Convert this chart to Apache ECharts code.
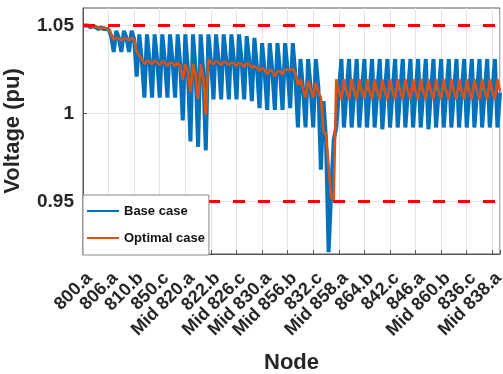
<!DOCTYPE html>
<html>
<head>
<meta charset="utf-8">
<script src="https://cdn.jsdelivr.net/npm/echarts@6/dist/echarts.min.js"></script>
<style>
  html, body { margin: 0; padding: 0; background: #fff; }
  #chart { width: 503px; height: 374px; }
</style>
</head>
<body>
<div id="chart"></div>
<script>
// tick labels, one every 10 points along the feeder
const tickLabels = ['800.a', '806.a', '810.b', '850.c', 'Mid 820.a', '822.b', 'Mid 826.c', 'Mid 830.a',
    'Mid 856.b', '832.c', 'Mid 858.a', '864.b', '842.c', '846.a', 'Mid 860.b', '836.c', 'Mid 838.a'];
const yTicks = [0.95, 1, 1.05];
const limits = [1.05, 0.95];

// base case voltages (pu), one value per node phase
const baseCase = [
    1.050, 1.050, 1.050, 1.049, 1.050, 1.049, 1.048, 1.049, 1.048, 1.048, 1.048,
    1.044, 1.035, 1.047, 1.043, 1.035, 1.047, 1.043, 1.035, 1.047, 1.042,
    1.021, 1.045, 1.030, 1.009, 1.045, 1.030, 1.009, 1.045, 1.030, 1.009,
    1.045, 1.030, 1.009, 1.045, 1.030, 1.009, 1.045, 1.028, 0.996, 1.045,
    1.025, 0.984, 1.045, 1.025, 0.981, 1.045, 1.024, 0.979, 1.045, 1.030,
    1.008, 1.045, 1.030, 1.008, 1.045, 1.030, 1.008, 1.045, 1.030, 1.008,
    1.045, 1.030, 1.008, 1.044, 1.030, 1.007, 1.043, 1.026, 1.003, 1.040,
    1.024, 1.002, 1.040, 1.024, 1.002, 1.040, 1.024, 1.002, 1.040, 1.024,
    1.003, 1.040, 1.022, 0.992, 1.031, 1.014, 0.992, 1.031, 1.014, 0.992,
    1.031, 1.015, 0.968, 1.007, 0.985, 0.921, 0.955, 0.985, 0.992, 1.012,
    1.031, 0.992, 1.012, 1.031, 0.992, 1.012, 1.031, 0.992, 1.012, 1.031,
    0.992, 1.012, 1.031, 0.992, 1.012, 1.031, 0.991, 1.012, 1.031, 0.992,
    1.012, 1.031, 0.992, 1.012, 1.031, 0.992, 1.012, 1.031, 0.992, 1.012,
    1.031, 0.992, 1.012, 1.031, 0.991, 1.012, 1.031, 0.992, 1.012, 1.031,
    0.992, 1.012, 1.031, 0.992, 1.012, 1.031, 0.992, 1.012, 1.031, 0.992,
    1.012, 1.031, 0.992, 1.012, 1.031, 0.992, 1.012, 1.031, 0.992, 1.012,
    1.031, 0.992, 1.012
];

// optimal case voltages (pu)
const optimalCase = [
    1.050, 1.050, 1.050, 1.0495, 1.049, 1.0495, 1.049, 1.048, 1.049, 1.0485, 1.048,
    1.045, 1.042, 1.043, 1.0425, 1.0415, 1.043, 1.0425, 1.0415, 1.043, 1.042,
    1.035, 1.033, 1.031, 1.028, 1.030, 1.0295, 1.028, 1.030, 1.029, 1.0275,
    1.0295, 1.029, 1.027, 1.029, 1.0285, 1.027, 1.029, 1.027, 1.019, 1.028,
    1.024, 1.012, 1.028, 1.022, 1.008, 1.028, 1.020, 0.999, 1.031, 1.029,
    1.028, 1.030, 1.029, 1.0275, 1.0295, 1.029, 1.0275, 1.029, 1.0285, 1.027,
    1.029, 1.028, 1.0265, 1.0285, 1.028, 1.026, 1.027, 1.026, 1.024, 1.026,
    1.025, 1.022, 1.025, 1.024, 1.021, 1.024, 1.024, 1.022, 1.025, 1.025,
    1.0245, 1.0255, 1.023, 1.016, 1.0195, 1.014, 1.009, 1.0185, 1.014, 1.009,
    1.0175, 1.012, 1.009, 0.990, 0.988, 0.970, 0.952, 0.951, 1.0195, 1.0125,
    1.008, 1.0195, 1.0125, 1.008, 1.0195, 1.0125, 1.008, 1.0195, 1.0125, 1.008,
    1.0195, 1.0125, 1.008, 1.0195, 1.0125, 1.008, 1.0195, 1.0125, 1.008, 1.0195,
    1.0125, 1.008, 1.0195, 1.0125, 1.008, 1.0195, 1.0125, 1.008, 1.0195, 1.0125,
    1.008, 1.0195, 1.0125, 1.008, 1.0195, 1.0125, 1.008, 1.0195, 1.0125, 1.008,
    1.0195, 1.0125, 1.008, 1.0195, 1.0125, 1.008, 1.0195, 1.0125, 1.008, 1.0195,
    1.0125, 1.008, 1.0195, 1.0125, 1.008, 1.0195, 1.0125, 1.008, 1.0195, 1.0125,
    1.008, 1.0195, 1.0125
];

const font = "'Liberation Sans', Arial, Helvetica, sans-serif";
const axisColor = '#555';

const myChart = echarts.init(document.getElementById('chart'));

const option = {
    animation: false,
    backgroundColor: '#fff',
    grid: {
        left: 83,
        right: 3,
        top: 8,
        bottom: 120,
        show: true,
        borderColor: axisColor,
        borderWidth: 1,
        outerBoundsMode: 'none'
    },
    legend: {
        orient: 'vertical',
        left: 83,
        top: 195,
        z: 10,
        icon: 'rect',
        padding: [9, 4, 10, 4],
        itemWidth: 32,
        itemHeight: 2,
        itemGap: 13,
        backgroundColor: '#fff',
        borderColor: '#888',
        borderWidth: 1,
        borderRadius: 0,
        textStyle: {
            fontFamily: font,
            fontWeight: 'bold',
            fontSize: 13,
            lineHeight: 14,
            color: '#111'
        },
        data: ['Base case', 'Optimal case']
    },
    xAxis: {
        type: 'value',
        min: 0,
        max: baseCase.length - 1,
        interval: 10,
        name: 'Node',
        nameLocation: 'middle',
        nameGap: 98,
        nameTextStyle: {
            fontFamily: font,
            fontWeight: 'bold',
            fontSize: 22,
            color: '#262626'
        },
        axisLine: { lineStyle: { color: axisColor } },
        axisTick: { inside: true, length: 4, lineStyle: { color: axisColor } },
        axisLabel: {
            rotate: 45,
            margin: 15,
            verticalAlign: 'top',
            fontFamily: font,
            fontWeight: 'bold',
            fontSize: 18,
            color: '#262626',
            formatter: v => (v % 10 === 0 && tickLabels[v / 10]) || ''
        },
        splitLine: { show: true, lineStyle: { color: '#e3e3e3' } }
    },
    yAxis: {
        type: 'value',
        min: 0.92,
        max: 1.06,
        name: 'Voltage (pu)',
        nameLocation: 'middle',
        nameGap: 59,
        nameTextStyle: {
            fontFamily: font,
            fontWeight: 'bold',
            fontSize: 22,
            color: '#262626'
        },
        axisLine: { show: true, lineStyle: { color: axisColor } },
        axisTick: { show: true, inside: true, length: 4, customValues: yTicks, lineStyle: { color: axisColor } },
        axisLabel: {
            customValues: yTicks,
            margin: 9,
            fontFamily: font,
            fontWeight: 'bold',
            fontSize: 19,
            color: '#262626'
        },
        splitLine: { show: true, lineStyle: { color: '#e3e3e3' } }
    },
    series: [
        {
            name: 'Base case',
            type: 'line',
            symbol: 'none',
            color: '#0072BD',
            lineStyle: { color: '#0072BD', width: 4 },
            data: baseCase.map((v, i) => [i, v])
        },
        {
            name: 'Optimal case',
            type: 'line',
            symbol: 'none',
            color: '#D95319',
            lineStyle: { color: '#D95319', width: 2.6 },
            data: optimalCase.map((v, i) => [i, v]),
            markLine: {
                silent: true,
                symbol: 'none',
                label: { show: false },
                lineStyle: { color: '#FF0000', width: 3, type: [12, 13] },
                data: limits.map(v => ({ yAxis: v }))
            }
        }
    ]
};

myChart.setOption(option);
</script>
</body>
</html>
